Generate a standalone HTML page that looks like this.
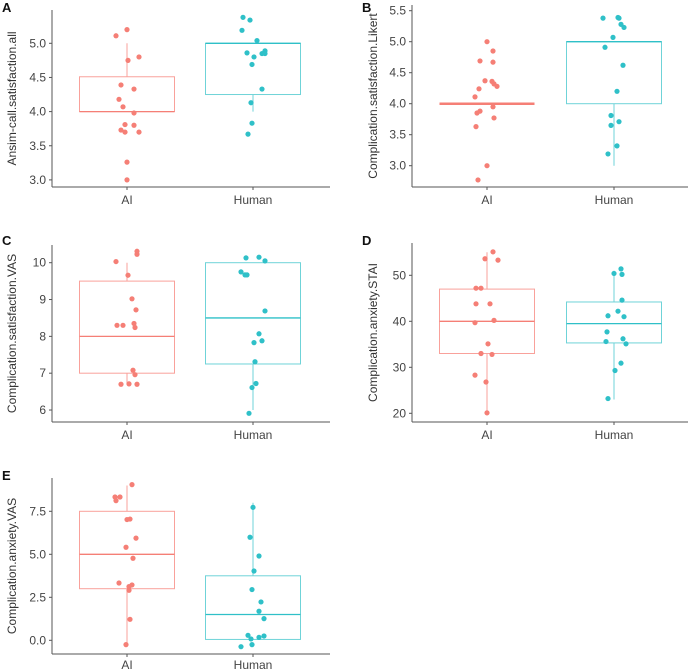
<!DOCTYPE html>
<html><head><meta charset="utf-8">
<style>
html,body{margin:0;padding:0;background:#fff;}
svg{display:block;font-family:"Liberation Sans",Arial,sans-serif;}
</style></head>
<body>
<svg id="fig" width="690" height="671" viewBox="0 0 690 671"></svg>
<script>
const categories = ["AI","Human"];
// Panel A
const aAiValues = [5.11,5.20,4.75,4.80,4.39,4.33,4.18,4.07,3.98,3.81,3.80,3.73,3.70,3.70,3.26,3.0];
const aAiJitter = [-11,0,1,12,-6,7,-8,-4,7,-2,7,-6,-2,12,0,0];
const aHuValues = [5.38,5.34,5.19,5.04,4.86,4.80,4.89,4.85,4.85,4.69,4.33,4.13,3.83,3.67];
const aHuJitter = [-10,-3,-11,4,-6,1,12,9,12,-1,9,-2,-1,-5];
const aAiBox = [4.0,4.0,4.0,4.51,5.0];
const aHuBox = [4.0,4.25,5.0,5.0,5.0];
const aTicks = [3.0,3.5,4.0,4.5,5.0];
// Panel B
const bAiValues = [5.0,4.85,4.69,4.67,4.37,4.36,4.32,4.28,4.24,4.11,3.95,3.88,3.85,3.77,3.63,3.0,2.77];
const bAiJitter = [0,6,-7,6,-2,5,7,10,-8,-12,6,-7,-10,7,-11,0,-9];
const bHuValues = [5.38,5.39,5.38,5.28,5.23,5.07,4.91,4.62,4.2,3.81,3.71,3.65,3.32,3.19];
const bHuJitter = [-11,4,5,7,10,-1,-9,9,3,-3,5,-3,3,-6];
const bAiBox = [4.0,4.0,4.0,4.0,4.0];
const bHuBox = [3.0,4.0,5.0,5.0,5.0];
const bTicks = [3.0,3.5,4.0,4.5,5.0,5.5];
// Panel C
const cAiValues = [10.03,10.31,10.23,9.66,9.02,8.72,8.30,8.30,8.35,8.24,7.08,6.96,6.70,6.71,6.70];
const cAiJitter = [-11,10,10,1,5,9,-10,-4,7,8,6,8,-6,2,10];
const cHuValues = [10.13,10.15,10.05,9.75,9.67,9.67,8.69,8.07,7.83,7.88,7.31,6.72,6.61,5.91];
const cHuJitter = [-7,6,12,-12,-8,-6,12,6,1,9,2,3,-1,-4];
const cAiBox = [6.7,7.0,8.0,9.5,10.0];
const cHuBox = [6.0,7.25,8.5,10.0,10.0];
const cTicks = [6,7,8,9,10];
// Panel D
const dAiValues = [55.1,53.6,53.3,47.2,47.2,43.8,43.8,40.2,39.7,35.1,33.0,32.8,28.3,26.8,20.1];
const dAiJitter = [6,-2,11,-11,-6,-11,3,7,-12,1,-6,5,-12,-1,0];
const dHuValues = [51.4,50.4,50.2,44.6,42.2,41.2,41.0,37.7,36.2,35.6,35.1,30.9,29.3,23.2];
const dHuJitter = [7,0,8,8,4,-6,10,-7,9,-8,12,7,1,-6];
const dAiBox = [20,33,40,47,55];
const dHuBox = [23,35.3,39.5,44.2,51];
const dTicks = [20,30,40,50];
// Panel E
const eAiValues = [9.05,8.33,8.33,8.12,7.02,7.05,5.94,5.41,4.77,3.33,3.22,3.12,2.91,1.22,-0.25];
const eAiJitter = [5,-12,-7,-11,0,3,9,-1,6,-8,5,2,2,3,-1];
const eHuValues = [7.73,5.99,4.90,4.03,2.95,2.23,1.69,1.26,0.29,0.08,0.25,0.17,-0.25,-0.37];
const eHuJitter = [0,-3,6,1,-1,8,6,11,-5,-2,11,6,-1,-12];
const eAiBox = [-0.25,3.0,5.0,7.5,9.0];
const eHuBox = [0.05,0.05,1.5,3.75,8.0];
const eTicks = [0,2.5,5.0,7.5];

const NS="http://www.w3.org/2000/svg";
const svg=document.getElementById('fig');
function mk(tag,attrs,parent){const e=document.createElementNS(NS,tag);for(const k in attrs)e.setAttribute(k,attrs[k]);(parent||svg).appendChild(e);return e;}
const COL=["#F57F76","#2FC0C8"];
const BOXCOL=["#F9A19B","#6FD3D8"];

function panel(p){
  const g=mk('g',{});
  
  
  const y=v=>p.y0-(v-p.v0)*p.ppu;
  const x=i=>p.cx[i];
  const lab=mk('text',{x:p.lx,y:p.ly,'font-size':13,'font-weight':'bold',fill:'#111'},g);lab.textContent=p.letter;
  
  
  const ax=mk('line',{x1:p.ax,y1:p.top,x2:p.ax,y2:p.bottom,stroke:'#555','stroke-width':1},g);
  
  
  const bx=mk('line',{x1:p.ax,y1:p.bottom,x2:p.right,y2:p.bottom,stroke:'#555','stroke-width':1},g);
  
  
  p.ticks.forEach(t=>{
    mk('line',{x1:p.ax-3,y1:y(t),x2:p.ax,y2:y(t),stroke:'#555'},g);
    const tl=mk('text',{x:p.ax-6,y:y(t)+4,'font-size':12,'text-anchor':'end',fill:'#444'},g);
    tl.textContent=p.fmt(t);
    
    
  });
  const yt=mk('text',{x:0,y:0,'font-size':12,'text-anchor':'middle',fill:'#333',transform:`translate(${p.ytx},${(p.top+p.bottom)/2}) rotate(-90)`},g);
  yt.textContent=p.title;
  
  
  categories.forEach((c,i)=>{
    mk('line',{x1:x(i),y1:p.bottom,x2:x(i),y2:p.bottom+3,stroke:'#555'},g);
    const t=mk('text',{x:x(i),y:p.bottom+p.xlo,'font-size':12,'text-anchor':'middle',fill:'#444'},g);
    t.textContent=c;
    
    
    const b=p.boxes[i];const hw=47.5;
    const wl=mk('line',{x1:x(i),y1:y(b[0]),x2:x(i),y2:y(b[4]),stroke:BOXCOL[i],'stroke-width':1},g);
    
    
    const r=mk('rect',{x:x(i)-hw,y:y(b[3]),width:hw*2,height:Math.max(0,y(b[1])-y(b[3])),fill:'#fff',stroke:BOXCOL[i],'stroke-width':1},g);
    
    
    const m=mk('line',{x1:x(i)-hw,y1:y(b[2]),x2:x(i)+hw,y2:y(b[2]),stroke:COL[i],'stroke-width':(b[1]===b[3])?2.5:1.3},g);
    
    
    p.vals[i].forEach((v,k)=>{
      const d=mk('circle',{cx:x(i)+p.jit[i][k],cy:y(v),r:2.6,fill:COL[i]},g);
      
      
    });
  });
}
const f1=t=>t.toFixed(1), f0=t=>String(t);
panel({letter:'A',lx:2,ly:12,ax:52,top:10,bottom:187,right:330,cx:[127,253],y0:43.3,v0:5,ppu:68.3,ticks:aTicks,fmt:f1,ytx:16,xlo:17,title:'Ansim-call.satisfaction.all',boxes:[aAiBox,aHuBox],vals:[aAiValues,aHuValues],jit:[aAiJitter,aHuJitter]});
panel({letter:'B',lx:362,ly:12,ax:412,top:5,bottom:187,right:688,cx:[487,614],y0:41.7,v0:5,ppu:62,ticks:bTicks,fmt:f1,ytx:377,xlo:17,title:'Complication.satisfaction.Likert',boxes:[bAiBox,bHuBox],vals:[bAiValues,bHuValues],jit:[bAiJitter,bHuJitter]});
panel({letter:'C',lx:2,ly:245,ax:52,top:245,bottom:422,right:330,cx:[127,253],y0:262.7,v0:10,ppu:36.83,ticks:cTicks,fmt:f0,ytx:16,xlo:17,title:'Complication.satisfaction.VAS',boxes:[cAiBox,cHuBox],vals:[cAiValues,cHuValues],jit:[cAiJitter,cHuJitter]});
panel({letter:'D',lx:362,ly:245,ax:412,top:243,bottom:422,right:688,cx:[487,614],y0:275.3,v0:50,ppu:4.6,ticks:dTicks,fmt:f0,ytx:377,xlo:17,title:'Complication.anxiety.STAI',boxes:[dAiBox,dHuBox],vals:[dAiValues,dHuValues],jit:[dAiJitter,dHuJitter]});
panel({letter:'E',lx:2,ly:480,ax:52,top:478,bottom:654,right:330,cx:[127,253],y0:640.3,v0:0,ppu:17.2,ticks:eTicks,fmt:f1,ytx:16,xlo:15,title:'Complication.anxiety.VAS',boxes:[eAiBox,eHuBox],vals:[eAiValues,eHuValues],jit:[eAiJitter,eHuJitter]});
</script>
</body></html>
